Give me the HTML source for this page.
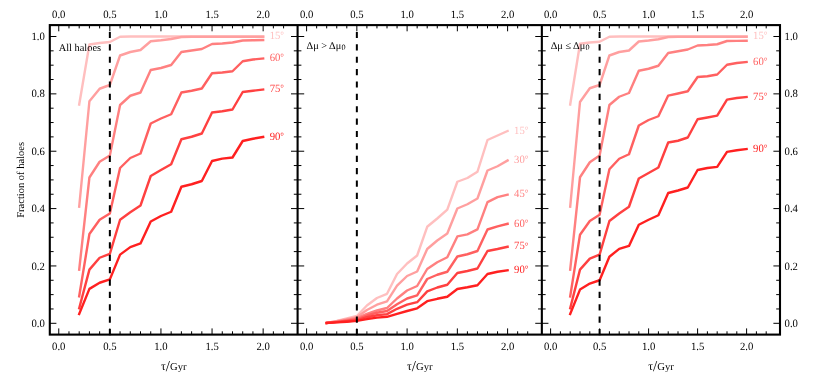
<!DOCTYPE html>
<html><head><meta charset="utf-8"><title>Fraction of haloes</title>
<style>
html,body{margin:0;padding:0;background:#fff;}
body{width:817px;height:372px;overflow:hidden;}
svg text{font-family:"Liberation Serif",serif;text-rendering:geometricPrecision;}
</style></head><body>
<svg width="817" height="372" viewBox="0 0 817 372" style="display:block;will-change:transform">
<rect x="0" y="0" width="817" height="372" fill="#fff"/>
<polyline points="79.19,104.50 89.41,44.50 99.63,43.00 109.85,42.00 120.07,36.75 130.29,36.50 140.51,36.50 150.73,36.50 160.95,36.50 171.17,36.50 181.39,36.50 191.61,36.50 201.83,36.50 212.05,36.50 222.27,36.50 232.49,36.50 242.71,36.50 252.93,36.50 263.15,36.50" fill="none" stroke="#ffbfbf" stroke-width="2.4" stroke-linejoin="round" stroke-linecap="square"/>
<polyline points="79.19,206.75 89.41,101.25 99.63,88.75 109.85,85.00 120.07,55.50 130.29,52.00 140.51,50.00 150.73,41.25 160.95,40.25 171.17,39.00 181.39,37.00 191.61,36.80 201.83,36.80 212.05,36.80 222.27,36.80 232.49,36.80 242.71,36.80 252.93,36.80 263.15,36.80" fill="none" stroke="#ff9f9f" stroke-width="2.4" stroke-linejoin="round" stroke-linecap="square"/>
<polyline points="79.19,269.60 89.41,177.50 99.63,161.75 109.85,155.50 120.07,105.00 130.29,95.75 140.51,92.50 150.73,70.00 160.95,68.00 171.17,65.00 181.39,52.00 191.61,50.50 201.83,49.00 212.05,44.00 222.27,43.50 232.49,42.50 242.71,40.50 252.93,40.25 263.15,40.00" fill="none" stroke="#ff8080" stroke-width="2.4" stroke-linejoin="round" stroke-linecap="square"/>
<polyline points="79.19,296.25 89.41,234.00 99.63,219.75 109.85,213.50 120.07,168.00 130.29,158.00 140.51,153.50 150.73,123.50 160.95,118.50 171.17,114.25 181.39,92.50 191.61,90.75 201.83,88.50 212.05,73.25 222.27,72.50 232.49,71.25 242.71,61.25 252.93,59.50 263.15,58.50" fill="none" stroke="#ff6060" stroke-width="2.4" stroke-linejoin="round" stroke-linecap="square"/>
<polyline points="79.19,308.25 89.41,269.60 99.63,257.75 109.85,253.90 120.07,219.75 130.29,212.25 140.51,205.50 150.73,176.00 160.95,170.00 171.17,164.25 181.39,139.25 191.61,136.75 201.83,133.50 212.05,112.50 222.27,111.25 232.49,109.50 242.71,92.00 252.93,90.75 263.15,89.50" fill="none" stroke="#ff4040" stroke-width="2.4" stroke-linejoin="round" stroke-linecap="square"/>
<polyline points="79.19,314.00 89.41,288.90 99.63,282.75 109.85,279.40 120.07,254.60 130.29,247.10 140.51,243.40 150.73,221.50 160.95,216.00 171.17,211.75 181.39,186.75 191.61,184.25 201.83,181.00 212.05,161.00 222.27,158.60 232.49,157.50 242.71,141.00 252.93,138.75 263.15,137.00" fill="none" stroke="#ff2020" stroke-width="2.4" stroke-linejoin="round" stroke-linecap="square"/>
<text transform="translate(269.65 39.20) scale(1 1.04)" font-size="10.7" fill="#ffbfbf">15<tspan font-size="9.2" dy="-0.9">°</tspan></text>
<text transform="translate(269.65 61.20) scale(1 1.04)" font-size="10.7" fill="#ff6060">60<tspan font-size="9.2" dy="-0.9">°</tspan></text>
<text transform="translate(269.65 92.20) scale(1 1.04)" font-size="10.7" fill="#ff4040">75<tspan font-size="9.2" dy="-0.9">°</tspan></text>
<text transform="translate(269.65 139.70) scale(1 1.04)" font-size="10.7" fill="#ff2020">90<tspan font-size="9.2" dy="-0.9">°</tspan></text>
<polyline points="326.70,323.00 336.75,321.00 346.80,318.50 356.85,316.00 366.90,305.50 376.95,298.00 387.00,293.80 397.05,274.00 407.10,263.50 417.15,255.50 427.20,226.80 437.25,218.50 447.30,209.70 457.35,181.75 467.40,178.00 477.45,171.75 487.50,140.00 497.55,135.50 507.60,131.00" fill="none" stroke="#ffbfbf" stroke-width="2.4" stroke-linejoin="round" stroke-linecap="square"/>
<polyline points="326.70,323.00 336.75,321.30 346.80,319.30 356.85,317.20 366.90,310.00 376.95,304.70 387.00,301.30 397.05,285.70 407.10,276.00 417.15,271.50 427.20,249.00 437.25,240.50 447.30,233.50 457.35,208.50 467.40,204.25 477.45,198.50 487.50,170.50 497.55,166.25 507.60,160.50" fill="none" stroke="#ff9f9f" stroke-width="2.4" stroke-linejoin="round" stroke-linecap="square"/>
<polyline points="326.70,323.00 336.75,321.60 346.80,320.00 356.85,318.30 366.90,313.80 376.95,310.50 387.00,308.00 397.05,298.50 407.10,290.50 417.15,286.00 427.20,269.00 437.25,262.25 447.30,257.25 457.35,236.40 467.40,234.40 477.45,229.40 487.50,202.10 497.55,197.10 507.60,194.60" fill="none" stroke="#ff8080" stroke-width="2.4" stroke-linejoin="round" stroke-linecap="square"/>
<polyline points="326.70,323.00 336.75,321.90 346.80,320.60 356.85,319.30 366.90,315.50 376.95,312.70 387.00,311.00 397.05,304.30 407.10,298.50 417.15,295.30 427.20,279.00 437.25,274.75 447.30,271.75 457.35,256.50 467.40,254.25 477.45,251.00 487.50,229.50 497.55,226.30 507.60,223.80" fill="none" stroke="#ff6060" stroke-width="2.4" stroke-linejoin="round" stroke-linecap="square"/>
<polyline points="326.70,323.00 336.75,322.10 346.80,321.20 356.85,320.30 366.90,317.20 376.95,315.20 387.00,314.10 397.05,308.80 407.10,304.70 417.15,302.20 427.20,291.40 437.25,287.50 447.30,284.75 457.35,273.00 467.40,271.00 477.45,268.50 487.50,251.00 497.55,249.00 507.60,246.75" fill="none" stroke="#ff4040" stroke-width="2.4" stroke-linejoin="round" stroke-linecap="square"/>
<polyline points="326.70,323.00 336.75,322.40 346.80,321.70 356.85,320.90 366.90,319.10 376.95,317.60 387.00,316.80 397.05,313.80 407.10,311.00 417.15,308.30 427.20,301.20 437.25,298.80 447.30,296.75 457.35,289.00 467.40,287.25 477.45,285.25 487.50,274.00 497.55,271.75 507.60,270.25" fill="none" stroke="#ff2020" stroke-width="2.4" stroke-linejoin="round" stroke-linecap="square"/>
<text transform="translate(514.10 133.70) scale(1 1.04)" font-size="10.7" fill="#ffbfbf">15<tspan font-size="9.2" dy="-0.9">°</tspan></text>
<text transform="translate(514.10 163.20) scale(1 1.04)" font-size="10.7" fill="#ff9f9f">30<tspan font-size="9.2" dy="-0.9">°</tspan></text>
<text transform="translate(514.10 197.30) scale(1 1.04)" font-size="10.7" fill="#ff8080">45<tspan font-size="9.2" dy="-0.9">°</tspan></text>
<text transform="translate(514.10 226.50) scale(1 1.04)" font-size="10.7" fill="#ff6060">60<tspan font-size="9.2" dy="-0.9">°</tspan></text>
<text transform="translate(514.10 249.45) scale(1 1.04)" font-size="10.7" fill="#ff4040">75<tspan font-size="9.2" dy="-0.9">°</tspan></text>
<text transform="translate(514.10 272.95) scale(1 1.04)" font-size="10.7" fill="#ff2020">90<tspan font-size="9.2" dy="-0.9">°</tspan></text>
<polyline points="570.20,104.50 580.00,43.75 589.80,42.50 599.60,41.75 609.40,36.75 619.20,36.50 629.00,36.50 638.80,36.50 648.60,36.50 658.40,36.50 668.20,36.50 678.00,36.50 687.80,36.50 697.60,36.50 707.40,36.50 717.20,36.50 727.00,36.50 736.80,36.50 746.60,36.50" fill="none" stroke="#ffbfbf" stroke-width="2.4" stroke-linejoin="round" stroke-linecap="square"/>
<polyline points="570.20,206.75 580.00,102.00 589.80,88.25 599.60,85.00 609.40,55.50 619.20,52.00 629.00,50.50 638.80,41.50 648.60,40.50 658.40,39.25 668.20,37.00 678.00,36.80 687.80,36.80 697.60,36.80 707.40,36.80 717.20,36.80 727.00,36.80 736.80,36.80 746.60,36.80" fill="none" stroke="#ff9f9f" stroke-width="2.4" stroke-linejoin="round" stroke-linecap="square"/>
<polyline points="570.20,269.60 580.00,177.25 589.80,162.25 599.60,155.50 609.40,105.00 619.20,96.75 629.00,93.00 638.80,70.75 648.60,68.75 658.40,65.75 668.20,53.00 678.00,51.25 687.80,49.50 697.60,45.50 707.40,45.00 717.20,44.25 727.00,41.00 736.80,40.90 746.60,40.75" fill="none" stroke="#ff8080" stroke-width="2.4" stroke-linejoin="round" stroke-linecap="square"/>
<polyline points="570.20,296.50 580.00,234.75 589.80,221.00 599.60,214.75 609.40,169.25 619.20,158.75 629.00,154.25 638.80,125.50 648.60,120.00 658.40,116.25 668.20,95.60 678.00,93.50 687.80,91.25 697.60,77.00 707.40,76.25 717.20,74.50 727.00,64.75 736.80,63.00 746.60,62.00" fill="none" stroke="#ff6060" stroke-width="2.4" stroke-linejoin="round" stroke-linecap="square"/>
<polyline points="570.20,308.25 580.00,269.60 589.80,258.60 599.60,254.60 609.40,221.00 619.20,213.50 629.00,206.75 638.80,178.50 648.60,173.00 658.40,167.50 668.20,142.50 678.00,140.75 687.80,137.50 697.60,119.25 707.40,117.50 717.20,115.60 727.00,99.60 736.80,98.00 746.60,97.00" fill="none" stroke="#ff4040" stroke-width="2.4" stroke-linejoin="round" stroke-linecap="square"/>
<polyline points="570.20,314.00 580.00,289.60 589.80,283.60 599.60,280.25 609.40,256.75 619.20,248.90 629.00,245.90 638.80,224.75 648.60,219.75 658.40,215.25 668.20,193.00 678.00,190.50 687.80,187.50 697.60,170.00 707.40,168.00 717.20,166.90 727.00,151.90 736.80,150.20 746.60,149.00" fill="none" stroke="#ff2020" stroke-width="2.4" stroke-linejoin="round" stroke-linecap="square"/>
<text transform="translate(753.10 39.20) scale(1 1.04)" font-size="10.7" fill="#ffbfbf">15<tspan font-size="9.2" dy="-0.9">°</tspan></text>
<text transform="translate(753.10 64.70) scale(1 1.04)" font-size="10.7" fill="#ff6060">60<tspan font-size="9.2" dy="-0.9">°</tspan></text>
<text transform="translate(753.10 99.70) scale(1 1.04)" font-size="10.7" fill="#ff4040">75<tspan font-size="9.2" dy="-0.9">°</tspan></text>
<text transform="translate(753.10 151.70) scale(1 1.04)" font-size="10.7" fill="#ff2020">90<tspan font-size="9.2" dy="-0.9">°</tspan></text>
<line x1="109.85" y1="335.20000000000005" x2="109.85" y2="25.1" stroke="#000" stroke-width="2" stroke-dasharray="6.2 6.18"/>
<line x1="356.85" y1="335.20000000000005" x2="356.85" y2="25.1" stroke="#000" stroke-width="2" stroke-dasharray="6.2 6.18"/>
<line x1="599.60" y1="335.20000000000005" x2="599.60" y2="25.1" stroke="#000" stroke-width="2" stroke-dasharray="6.2 6.18"/>
<path d="M58.75 25.1v6.2M58.75 334.6v-6.2M68.97 25.1v3.3M68.97 334.6v-3.3M79.19 25.1v3.3M79.19 334.6v-3.3M89.41 25.1v3.3M89.41 334.6v-3.3M99.63 25.1v3.3M99.63 334.6v-3.3M109.85 25.1v6.2M109.85 334.6v-6.2M120.07 25.1v3.3M120.07 334.6v-3.3M130.29 25.1v3.3M130.29 334.6v-3.3M140.51 25.1v3.3M140.51 334.6v-3.3M150.73 25.1v3.3M150.73 334.6v-3.3M160.95 25.1v6.2M160.95 334.6v-6.2M171.17 25.1v3.3M171.17 334.6v-3.3M181.39 25.1v3.3M181.39 334.6v-3.3M191.61 25.1v3.3M191.61 334.6v-3.3M201.83 25.1v3.3M201.83 334.6v-3.3M212.05 25.1v6.2M212.05 334.6v-6.2M222.27 25.1v3.3M222.27 334.6v-3.3M232.49 25.1v3.3M232.49 334.6v-3.3M242.71 25.1v3.3M242.71 334.6v-3.3M252.93 25.1v3.3M252.93 334.6v-3.3M263.15 25.1v6.2M263.15 334.6v-6.2M273.37 25.1v3.3M273.37 334.6v-3.3M283.59 25.1v3.3M283.59 334.6v-3.3M306.60 25.1v6.2M306.60 334.6v-6.2M316.65 25.1v3.3M316.65 334.6v-3.3M326.70 25.1v3.3M326.70 334.6v-3.3M336.75 25.1v3.3M336.75 334.6v-3.3M346.80 25.1v3.3M346.80 334.6v-3.3M356.85 25.1v6.2M356.85 334.6v-6.2M366.90 25.1v3.3M366.90 334.6v-3.3M376.95 25.1v3.3M376.95 334.6v-3.3M387.00 25.1v3.3M387.00 334.6v-3.3M397.05 25.1v3.3M397.05 334.6v-3.3M407.10 25.1v6.2M407.10 334.6v-6.2M417.15 25.1v3.3M417.15 334.6v-3.3M427.20 25.1v3.3M427.20 334.6v-3.3M437.25 25.1v3.3M437.25 334.6v-3.3M447.30 25.1v3.3M447.30 334.6v-3.3M457.35 25.1v6.2M457.35 334.6v-6.2M467.40 25.1v3.3M467.40 334.6v-3.3M477.45 25.1v3.3M477.45 334.6v-3.3M487.50 25.1v3.3M487.50 334.6v-3.3M497.55 25.1v3.3M497.55 334.6v-3.3M507.60 25.1v6.2M507.60 334.6v-6.2M517.65 25.1v3.3M517.65 334.6v-3.3M527.70 25.1v3.3M527.70 334.6v-3.3M550.60 25.1v6.2M550.60 334.6v-6.2M560.40 25.1v3.3M560.40 334.6v-3.3M570.20 25.1v3.3M570.20 334.6v-3.3M580.00 25.1v3.3M580.00 334.6v-3.3M589.80 25.1v3.3M589.80 334.6v-3.3M599.60 25.1v6.2M599.60 334.6v-6.2M609.40 25.1v3.3M609.40 334.6v-3.3M619.20 25.1v3.3M619.20 334.6v-3.3M629.00 25.1v3.3M629.00 334.6v-3.3M638.80 25.1v3.3M638.80 334.6v-3.3M648.60 25.1v6.2M648.60 334.6v-6.2M658.40 25.1v3.3M658.40 334.6v-3.3M668.20 25.1v3.3M668.20 334.6v-3.3M678.00 25.1v3.3M678.00 334.6v-3.3M687.80 25.1v3.3M687.80 334.6v-3.3M697.60 25.1v6.2M697.60 334.6v-6.2M707.40 25.1v3.3M707.40 334.6v-3.3M717.20 25.1v3.3M717.20 334.6v-3.3M727.00 25.1v3.3M727.00 334.6v-3.3M736.80 25.1v3.3M736.80 334.6v-3.3M746.60 25.1v6.2M746.60 334.6v-6.2M756.40 25.1v3.3M756.40 334.6v-3.3M766.20 25.1v3.3M766.20 334.6v-3.3M49.8 323.30h6.6M780.0 323.30h-6.6M291.0 323.30h13.2M535.25 323.30h13.2M49.8 308.96h3.8M780.0 308.96h-3.8M293.8 308.96h7.6M538.0500000000001 308.96h7.6M49.8 294.62h3.8M780.0 294.62h-3.8M293.8 294.62h7.6M538.0500000000001 294.62h7.6M49.8 280.28h3.8M780.0 280.28h-3.8M293.8 280.28h7.6M538.0500000000001 280.28h7.6M49.8 265.94h6.6M780.0 265.94h-6.6M291.0 265.94h13.2M535.25 265.94h13.2M49.8 251.60h3.8M780.0 251.60h-3.8M293.8 251.60h7.6M538.0500000000001 251.60h7.6M49.8 237.26h3.8M780.0 237.26h-3.8M293.8 237.26h7.6M538.0500000000001 237.26h7.6M49.8 222.92h3.8M780.0 222.92h-3.8M293.8 222.92h7.6M538.0500000000001 222.92h7.6M49.8 208.58h6.6M780.0 208.58h-6.6M291.0 208.58h13.2M535.25 208.58h13.2M49.8 194.24h3.8M780.0 194.24h-3.8M293.8 194.24h7.6M538.0500000000001 194.24h7.6M49.8 179.90h3.8M780.0 179.90h-3.8M293.8 179.90h7.6M538.0500000000001 179.90h7.6M49.8 165.56h3.8M780.0 165.56h-3.8M293.8 165.56h7.6M538.0500000000001 165.56h7.6M49.8 151.22h6.6M780.0 151.22h-6.6M291.0 151.22h13.2M535.25 151.22h13.2M49.8 136.88h3.8M780.0 136.88h-3.8M293.8 136.88h7.6M538.0500000000001 136.88h7.6M49.8 122.54h3.8M780.0 122.54h-3.8M293.8 122.54h7.6M538.0500000000001 122.54h7.6M49.8 108.20h3.8M780.0 108.20h-3.8M293.8 108.20h7.6M538.0500000000001 108.20h7.6M49.8 93.86h6.6M780.0 93.86h-6.6M291.0 93.86h13.2M535.25 93.86h13.2M49.8 79.52h3.8M780.0 79.52h-3.8M293.8 79.52h7.6M538.0500000000001 79.52h7.6M49.8 65.18h3.8M780.0 65.18h-3.8M293.8 65.18h7.6M538.0500000000001 65.18h7.6M49.8 50.84h3.8M780.0 50.84h-3.8M293.8 50.84h7.6M538.0500000000001 50.84h7.6M49.8 36.50h6.6M780.0 36.50h-6.6M291.0 36.50h13.2M535.25 36.50h13.2" stroke="#000" stroke-width="1.0" fill="none"/>
<rect x="49.8" y="25.1" width="730.2" height="309.5" fill="none" stroke="#000" stroke-width="2.1"/>
<line x1="297.6" y1="25.1" x2="297.6" y2="334.6" stroke="#000" stroke-width="2.1"/>
<line x1="541.85" y1="25.1" x2="541.85" y2="334.6" stroke="#000" stroke-width="2.1"/>
<text transform="translate(58.75 17.80) scale(1 1.04)" font-size="10.7" text-anchor="middle">0.0</text>
<text transform="translate(58.75 349.60) scale(1 1.04)" font-size="10.7" text-anchor="middle">0.0</text>
<text transform="translate(109.85 17.80) scale(1 1.04)" font-size="10.7" text-anchor="middle">0.5</text>
<text transform="translate(109.85 349.60) scale(1 1.04)" font-size="10.7" text-anchor="middle">0.5</text>
<text transform="translate(160.95 17.80) scale(1 1.04)" font-size="10.7" text-anchor="middle">1.0</text>
<text transform="translate(160.95 349.60) scale(1 1.04)" font-size="10.7" text-anchor="middle">1.0</text>
<text transform="translate(212.05 17.80) scale(1 1.04)" font-size="10.7" text-anchor="middle">1.5</text>
<text transform="translate(212.05 349.60) scale(1 1.04)" font-size="10.7" text-anchor="middle">1.5</text>
<text transform="translate(263.15 17.80) scale(1 1.04)" font-size="10.7" text-anchor="middle">2.0</text>
<text transform="translate(263.15 349.60) scale(1 1.04)" font-size="10.7" text-anchor="middle">2.0</text>
<text x="161.10" y="369.8" font-size="10.6"><tspan font-size="11.8">τ</tspan><tspan font-size="15" dy="1.3">/</tspan><tspan dy="-1.3">Gyr</tspan></text>
<text transform="translate(306.60 17.80) scale(1 1.04)" font-size="10.7" text-anchor="middle">0.0</text>
<text transform="translate(306.60 349.60) scale(1 1.04)" font-size="10.7" text-anchor="middle">0.0</text>
<text transform="translate(356.85 17.80) scale(1 1.04)" font-size="10.7" text-anchor="middle">0.5</text>
<text transform="translate(356.85 349.60) scale(1 1.04)" font-size="10.7" text-anchor="middle">0.5</text>
<text transform="translate(407.10 17.80) scale(1 1.04)" font-size="10.7" text-anchor="middle">1.0</text>
<text transform="translate(407.10 349.60) scale(1 1.04)" font-size="10.7" text-anchor="middle">1.0</text>
<text transform="translate(457.35 17.80) scale(1 1.04)" font-size="10.7" text-anchor="middle">1.5</text>
<text transform="translate(457.35 349.60) scale(1 1.04)" font-size="10.7" text-anchor="middle">1.5</text>
<text transform="translate(507.60 17.80) scale(1 1.04)" font-size="10.7" text-anchor="middle">2.0</text>
<text transform="translate(507.60 349.60) scale(1 1.04)" font-size="10.7" text-anchor="middle">2.0</text>
<text x="407.12" y="369.8" font-size="10.6"><tspan font-size="11.8">τ</tspan><tspan font-size="15" dy="1.3">/</tspan><tspan dy="-1.3">Gyr</tspan></text>
<text transform="translate(550.60 17.80) scale(1 1.04)" font-size="10.7" text-anchor="middle">0.0</text>
<text transform="translate(550.60 349.60) scale(1 1.04)" font-size="10.7" text-anchor="middle">0.0</text>
<text transform="translate(599.60 17.80) scale(1 1.04)" font-size="10.7" text-anchor="middle">0.5</text>
<text transform="translate(599.60 349.60) scale(1 1.04)" font-size="10.7" text-anchor="middle">0.5</text>
<text transform="translate(648.60 17.80) scale(1 1.04)" font-size="10.7" text-anchor="middle">1.0</text>
<text transform="translate(648.60 349.60) scale(1 1.04)" font-size="10.7" text-anchor="middle">1.0</text>
<text transform="translate(697.60 17.80) scale(1 1.04)" font-size="10.7" text-anchor="middle">1.5</text>
<text transform="translate(697.60 349.60) scale(1 1.04)" font-size="10.7" text-anchor="middle">1.5</text>
<text transform="translate(746.60 17.80) scale(1 1.04)" font-size="10.7" text-anchor="middle">2.0</text>
<text transform="translate(746.60 349.60) scale(1 1.04)" font-size="10.7" text-anchor="middle">2.0</text>
<text x="648.32" y="369.8" font-size="10.6"><tspan font-size="11.8">τ</tspan><tspan font-size="15" dy="1.3">/</tspan><tspan dy="-1.3">Gyr</tspan></text>
<text transform="translate(44.80 326.90) scale(1 1.04)" font-size="10.7" text-anchor="end">0.0</text>
<text transform="translate(784.60 326.90) scale(1 1.04)" font-size="10.7">0.0</text>
<text transform="translate(44.80 269.54) scale(1 1.04)" font-size="10.7" text-anchor="end">0.2</text>
<text transform="translate(784.60 269.54) scale(1 1.04)" font-size="10.7">0.2</text>
<text transform="translate(44.80 212.18) scale(1 1.04)" font-size="10.7" text-anchor="end">0.4</text>
<text transform="translate(784.60 212.18) scale(1 1.04)" font-size="10.7">0.4</text>
<text transform="translate(44.80 154.82) scale(1 1.04)" font-size="10.7" text-anchor="end">0.6</text>
<text transform="translate(784.60 154.82) scale(1 1.04)" font-size="10.7">0.6</text>
<text transform="translate(44.80 97.46) scale(1 1.04)" font-size="10.7" text-anchor="end">0.8</text>
<text transform="translate(784.60 97.46) scale(1 1.04)" font-size="10.7">0.8</text>
<text transform="translate(44.80 40.10) scale(1 1.04)" font-size="10.7" text-anchor="end">1.0</text>
<text transform="translate(784.60 40.10) scale(1 1.04)" font-size="10.7">1.0</text>
<text transform="translate(24.20 179.85) rotate(-90) scale(1 1)" font-size="10.5" text-anchor="middle">Fraction of haloes</text>
<text x="58.7" y="50.6" font-size="10.4">All haloes</text>
<text x="306.6" y="48.5" font-size="10.3">Δμ &gt; Δμ<tspan font-size="8.2" dx="0.3" dy="1.7">0</tspan></text>
<text x="550.7" y="48.5" font-size="10.3">Δμ ≤ Δμ<tspan font-size="8.2" dx="0.3" dy="1.7">0</tspan></text>
</svg>
</body></html>
